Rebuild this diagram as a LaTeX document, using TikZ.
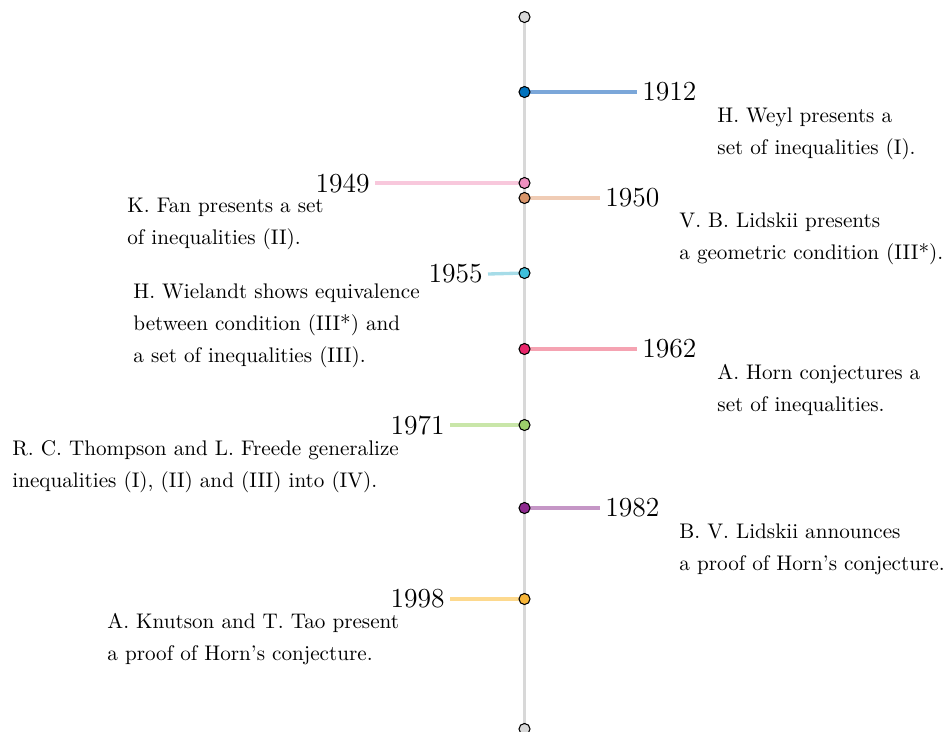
\documentclass[tikz,border=0pt]{standalone}
\usetikzlibrary{backgrounds}
\definecolor{axisgray}{HTML}{D8D8D8}
\definecolor{dA}{HTML}{0072BD}\definecolor{lA}{HTML}{7BA7D9}
\definecolor{dB}{HTML}{EE8FC0}\definecolor{lB}{HTML}{F8C8DC}
\definecolor{dC}{HTML}{D9956A}\definecolor{lC}{HTML}{F0CCB5}
\definecolor{dD}{HTML}{3EBFDB}\definecolor{lD}{HTML}{A6DCE8}
\definecolor{dE}{HTML}{E8266A}\definecolor{lE}{HTML}{F5A3B2}
\definecolor{dF}{HTML}{9CCF6B}\definecolor{lF}{HTML}{C9E6A9}
\definecolor{dG}{HTML}{8E2A8F}\definecolor{lG}{HTML}{C596C6}
\definecolor{dH}{HTML}{F7B538}\definecolor{lH}{HTML}{FDD98E}
\begin{document}
\begin{tikzpicture}[x=0.48pt,y=-0.48pt,
  evdot/.style={circle,draw=black,line width=0.5pt,inner sep=0pt,minimum size=5.3pt,fill=#1},
  yearlbl/.style={inner sep=2.4pt,font=\fontsize{13.2}{15}\selectfont},
  desc/.style={inner sep=0pt,align=left,anchor=north west,font=\fontsize{10.15}{15.4}\selectfont},
  tick/.style={line width=1.6pt,draw=#1}]
\useasboundingbox (0,0) rectangle (945,731);
% end dots
\node[evdot=axisgray] (top) at (524.5,17) {};
\node[evdot=axisgray] (bot) at (524.5,729) {};
% event dots
\node[evdot=dA] (d1) at (524.5,92) {};
\node[evdot=dB] (d2) at (524.5,183) {};
\node[evdot=dC] (d3) at (524.5,198) {};
\node[evdot=dD] (d4) at (524.5,273) {};
\node[evdot=dE] (d5) at (524.5,349) {};
\node[evdot=dF] (d6) at (524.5,425) {};
\node[evdot=dG] (d7) at (524.5,508) {};
\node[evdot=dH] (d8) at (524.5,599) {};
% years
\node[yearlbl,anchor=west] (y1) at (637,92) {1912};
\node[yearlbl,anchor=east] (y2) at (375,183) {1949};
\node[yearlbl,anchor=west] (y3) at (600,198) {1950};
\node[yearlbl,anchor=east] (y4) at (488,274) {1955};
\node[yearlbl,anchor=west] (y5) at (637,349) {1962};
\node[yearlbl,anchor=east] (y6) at (450,425) {1971};
\node[yearlbl,anchor=west] (y7) at (600,508) {1982};
\node[yearlbl,anchor=east] (y8) at (450,599) {1998};
% descriptions
\node[desc] (t1) at (717,107) {H. Weyl presents a\\set of inequalities (I).};
\node[desc] (t2) at (127,198) {K. Fan presents a set\\of inequalities (II).};
\node[desc] (t3) at (679,212) {V. B. Lidskii presents\\a geometric condition (III*).};
\node[desc] (t4) at (133,283) {H. Wielandt shows equivalence\\between condition (III*) and\\a set of inequalities (III).};
\node[desc] (t5) at (717,364) {A. Horn conjectures a\\set of inequalities.};
\node[desc] (t6) at (12,440) {R. C. Thompson and L. Freede generalize\\inequalities (I), (II) and (III) into (IV).};
\node[desc] (t7) at (679,523) {B. V. Lidskii announces\\a proof of Horn's conjecture.};
\node[desc] (t8) at (107,613) {A. Knutson and T. Tao present\\a proof of Horn's conjecture.};
% connectors
\begin{scope}[on background layer]
\draw[line width=1.5pt,axisgray] (top.center) -- (bot.center);
\draw[tick=lA] (d1.center) -- (y1.west);
\draw[tick=lB] (d2.center) -- (y2.east);
\draw[tick=lC] (d3.center) -- (y3.west);
\draw[tick=lD] (d4.center) -- (y4.east);
\draw[tick=lE] (d5.center) -- (y5.west);
\draw[tick=lF] (d6.center) -- (y6.east);
\draw[tick=lG] (d7.center) -- (y7.west);
\draw[tick=lH] (d8.center) -- (y8.east);
\end{scope}
\end{tikzpicture}
\end{document}
